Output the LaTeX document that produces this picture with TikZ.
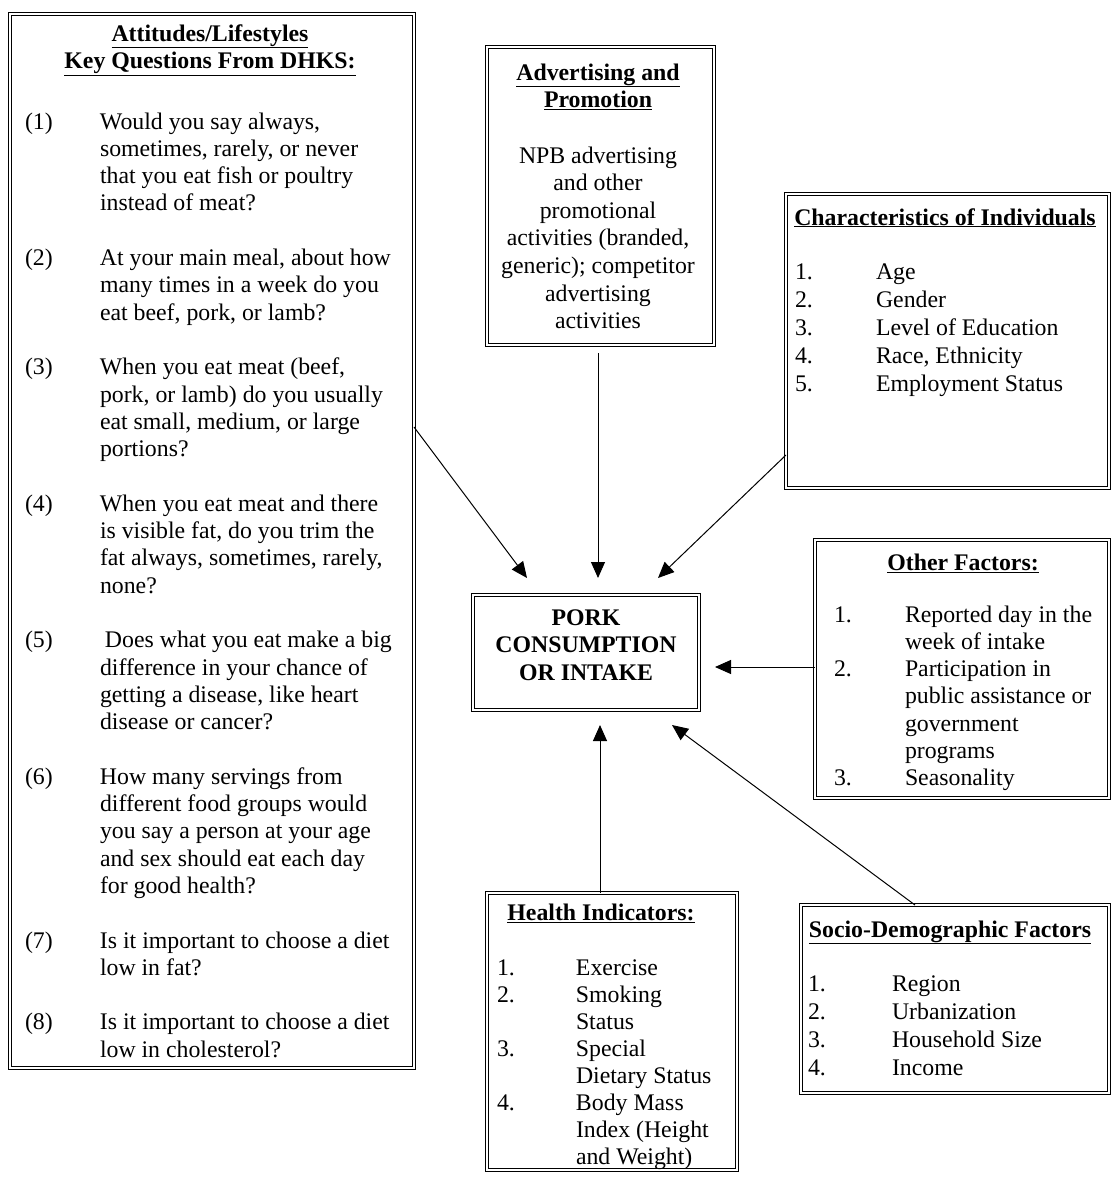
\documentclass[tikz,border=0pt]{standalone}
\usepackage{fontspec}
\setmainfont{Liberation Serif}
\usetikzlibrary{arrows.meta}
\newcommand\fszA{\fontsize{23.8}{27.3}\selectfont}
\newcommand\fszB{\fontsize{23.8}{27.6}\selectfont}
\newcommand\fszC{\fontsize{23.8}{28.2}\selectfont}
\newcommand\fszD{\fontsize{23.8}{27.1}\selectfont}
\begin{document}
\begin{tikzpicture}[x=1pt,y=-1pt,
  box/.style={draw, double, double distance=2.2pt, line width=1.1pt, inner sep=0pt, outer sep=0pt},
  txt/.style={inner sep=0pt, outer sep=0pt, anchor=base west},
  ctr/.style={inner sep=0pt, outer sep=0pt, anchor=base},
  arr/.style={line width=1pt, -{Triangle[length=16pt,width=14pt]}}
]
\useasboundingbox (0,0) rectangle (1112,1178);

% boxes
\node[box, minimum width=404pt, minimum height=1054pt] (att) at (212,541) {};
\node[box, minimum width=227pt, minimum height=298pt] (adv) at (600.5,196) {};
\node[box, minimum width=323pt, minimum height=294pt] (chr) at (947.5,341) {};
\node[box, minimum width=294pt, minimum height=258pt] (oth) at (962,669) {};
\node[box, minimum width=226pt, minimum height=115pt] (pork) at (586,652.5) {};
\node[box, minimum width=250pt, minimum height=277pt] (hlt) at (612,1031.5) {};
\node[box, minimum width=308pt, minimum height=188pt] (soc) at (955,999) {};

% Attitudes box
\node[ctr, font=\fszA\bfseries] (atth) at (210,41) {\begin{tabular}[t]{@{}c@{}}\underline{Attitudes/Lifestyles}\\\underline{Key Questions From DHKS:}\end{tabular}};
\node[txt, font=\fszA] (attq) at (25,129) {\begin{tabular}[t]{@{}p{75pt}@{}l@{}}
(1) & Would you say always,\\
 & sometimes, rarely, or never\\
 & that you eat fish or poultry\\
 & instead of meat?\\
 & \\
(2) & At your main meal, about how\\
 & many times in a week do you\\
 & eat beef, pork, or lamb?\\
 & \\
(3) & When you eat meat (beef,\\
 & pork, or lamb) do you usually\\
 & eat small, medium, or large\\
 & portions?\\
 & \\
(4) & When you eat meat and there\\
 & is visible fat, do you trim the\\
 & fat always, sometimes, rarely,\\
 & none?\\
 & \\
(5) & \hspace{5pt}Does what you eat make a big\\
 & difference in your chance of\\
 & getting a disease, like heart\\
 & disease or cancer?\\
 & \\
(6) & How many servings from\\
 & different food groups would\\
 & you say a person at your age\\
 & and sex should eat each day\\
 & for good health?\\
 & \\
(7) & Is it important to choose a diet\\
 & low in fat?\\
 & \\
(8) & Is it important to choose a diet\\
 & low in cholesterol?
\end{tabular}};

% Advertising box
\node[ctr, font=\fszB\bfseries] (advh) at (598,80) {\begin{tabular}[t]{@{}c@{}}\underline{Advertising and}\\\underline{Promotion}\end{tabular}};
\node[ctr, font=\fszB] (advb) at (598,163) {\begin{tabular}[t]{@{}c@{}}NPB advertising\\and other\\promotional\\activities (branded,\\generic); competitor\\advertising\\activities\end{tabular}};

% Characteristics box
\node[ctr, font=\fszC\bfseries] (chrh) at (945,225) {\underline{Characteristics of Individuals}};
\node[txt, font=\fszC] (chrl) at (795,279) {\begin{tabular}[t]{@{}p{81pt}@{}l@{}}
1. & Age\\
2. & Gender\\
3. & Level of Education\\
4. & Race, Ethnicity\\
5. & Employment Status
\end{tabular}};

% Other factors box
\node[ctr, font=\fszA\bfseries] (othh) at (963,570) {\underline{Other Factors:}};
\node[txt, font=\fszA] (othl) at (834,622) {\begin{tabular}[t]{@{}p{71pt}@{}l@{}}
1. & Reported day in the\\
 & week of intake\\
2. & Participation in\\
 & public assistance or\\
 & government\\
 & programs\\
3. & Seasonality
\end{tabular}};

% Pork box
\node[ctr, font=\fszB\bfseries] (porkt) at (586,625) {\begin{tabular}[t]{@{}c@{}}PORK\\CONSUMPTION\\OR INTAKE\end{tabular}};

% Health box
\node[ctr, font=\fszD\bfseries] (hlth) at (601,920) {\underline{Health Indicators:}};
\node[txt, font=\fszD] (hltl) at (497,975) {\begin{tabular}[t]{@{}p{79pt}@{}l@{}}
1. & Exercise\\
2. & Smoking\\
 & Status\\
3. & Special\\
 & Dietary Status\\
4. & Body Mass\\
 & Index (Height\\
 & and Weight)
\end{tabular}};

% Socio box
\node[ctr, font=\fszC\bfseries] (soch) at (950,937) {\underline{Socio-Demographic Factors}};
\node[txt, font=\fszC] (socl) at (808,991) {\begin{tabular}[t]{@{}p{84pt}@{}l@{}}
1. & Region\\
2. & Urbanization\\
3. & Household Size\\
4. & Income
\end{tabular}};

% arrows
\draw[arr] ([yshift=114pt]att.east) -- ([xshift=-59pt,yshift=17pt]pork.north);
\draw[arr] ([xshift=-2.5pt,yshift=-8pt]adv.south) -- ([xshift=12pt,yshift=17pt]pork.north);
\draw[arr] ([yshift=-114pt]chr.west) -- ([xshift=72pt,yshift=17pt]pork.north);
\draw[arr] ([yshift=2pt]oth.west) -- ([xshift=16pt,yshift=-14.5pt]pork.east);
\draw[arr] ([xshift=-12pt]hlt.north) -- ([xshift=14pt,yshift=-15pt]pork.south);
\draw[arr] ([xshift=-40pt]soc.north) -- ([xshift=86pt,yshift=-15pt]pork.south);
\end{tikzpicture}
\end{document}
